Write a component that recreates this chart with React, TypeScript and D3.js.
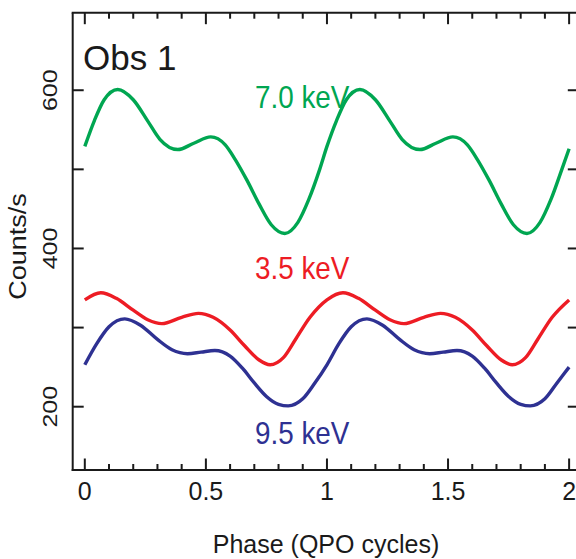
import React from "react";
import * as d3 from "d3";

const phases7 = [0, 0.04, 0.08, 0.136, 0.2, 0.26, 0.31, 0.384, 0.45, 0.52, 0.58, 0.62, 0.67, 0.72, 0.77, 0.826, 0.88, 0.925, 0.97,
  1.0, 1.04, 1.08, 1.136, 1.2, 1.26, 1.31, 1.384, 1.45, 1.52, 1.58, 1.62, 1.67, 1.72, 1.77, 1.826, 1.88, 1.925, 1.97, 2.0];
const counts7 = [529, 562, 588, 601, 588, 561, 538, 525, 533, 541, 531, 513, 486, 456, 430, 419, 433, 462, 500,
  529, 562, 588, 601, 588, 561, 538, 525, 533, 541, 531, 513, 486, 456, 430, 419, 433, 462, 500, 526];

const phases35 = [0, 0.066, 0.13, 0.2, 0.26, 0.318, 0.4, 0.469, 0.53, 0.6, 0.66, 0.72, 0.765, 0.82, 0.87, 0.93,
  1.0, 1.066, 1.13, 1.2, 1.26, 1.318, 1.4, 1.469, 1.53, 1.6, 1.66, 1.72, 1.765, 1.82, 1.87, 1.93, 2.0];
const counts35 = [335, 344, 337, 322, 310, 305, 313, 318, 313, 297, 277, 259, 253, 262, 285, 313,
  335, 344, 337, 322, 310, 305, 313, 318, 313, 297, 277, 259, 253, 262, 285, 313, 335];

const phases95 = [0, 0.05, 0.1, 0.165, 0.23, 0.3, 0.36, 0.424, 0.48, 0.537, 0.6, 0.65, 0.7, 0.75, 0.8, 0.84, 0.9, 0.95,
  1.0, 1.05, 1.1, 1.165, 1.23, 1.3, 1.36, 1.424, 1.48, 1.537, 1.6, 1.65, 1.7, 1.75, 1.8, 1.84, 1.9, 1.95, 2.0];
const counts95 = [253, 280, 301, 311, 303, 285, 272, 267, 269, 271, 264, 249, 230, 213, 203, 201, 210, 230,
  253, 280, 301, 311, 303, 285, 272, 267, 269, 271, 264, 249, 230, 213, 203, 201, 210, 230, 250];

const seriesLabels = ["7.0 keV", "3.5 keV", "9.5 keV"];
const seriesColors = ["#00a651", "#ed1c24", "#2e3192"];
const yLabelTicks = [200, 400, 600];
const xLabelTicks = [0, 0.5, 1, 1.5, 2];
const xTickText = ["0", "0.5", "1", "1.5", "2"];

const W = 576;
const H = 559;
const FONT = "'Liberation Sans', Arial, Helvetica, sans-serif";

export default function App() {
  const x = d3.scaleLinear().domain([-0.05, 2.04]).range([72.7, 578.8]);
  const y = d3.scaleLinear().domain([120, 698]).range([470, 12.7]);
  const left = x.range()[0];
  const right = x.range()[1];
  const top = y.range()[1];
  const bottom = y.range()[0];

  const series = [
    { p: phases7, v: counts7 },
    { p: phases35, v: counts35 },
    { p: phases95, v: counts95 },
  ];
  const line = d3
    .line<[number, number]>()
    .x((d) => x(d[0]))
    .y((d) => y(d[1]))
    .curve(d3.curveMonotoneX);

  const xTicks = d3.range(0, 21).map((i) => i / 10);
  const yTicks = y.ticks(6);

  const labelPos = [
    { x: 255, y: 108 },
    { x: 255, y: 279 },
    { x: 255, y: 444 },
  ];

  return (
    <svg
      width={W}
      height={H}
      style={{ position: "absolute", left: 0, top: 0, background: "#fff" }}
      fontFamily={FONT}
    >
      <rect x={0} y={0} width={W} height={H} fill="#fff" />
      {series.map((s, i) => (
        <path
          key={i}
          d={line(s.p.map((p, j) => [p, s.v[j]] as [number, number])) || ""}
          fill="none"
          stroke={seriesColors[i]}
          strokeWidth={3.4}
        />
      ))}
      {/* frame */}
      <g stroke="#1a1a1a" strokeWidth={2} fill="none">
        <line x1={left} x2={left} y1={top} y2={bottom + 1} />
        <line x1={right} x2={right} y1={top} y2={bottom} />
        <line x1={left - 1} x2={right} y1={top} y2={top} />
        <line x1={left - 1} x2={right} y1={bottom} y2={bottom} />
        {xTicks.map((t) => {
          const major = Math.abs(t * 2 - Math.round(t * 2)) < 1e-6;
          const len = major ? 11.5 : 6;
          return (
            <g key={t}>
              <line x1={x(t)} x2={x(t)} y1={bottom} y2={bottom - len} />
              <line x1={x(t)} x2={x(t)} y1={top} y2={top + len} />
            </g>
          );
        })}
        {yTicks.map((t) => (
          <g key={t}>
            <line x1={left} x2={left + 11} y1={y(t)} y2={y(t)} />
            <line x1={right} x2={right - 11} y1={y(t)} y2={y(t)} />
          </g>
        ))}
      </g>
      {/* x tick labels */}
      {xLabelTicks.map((t, i) => (
        <text key={t} x={x(t)} y={500} fontSize={25} textAnchor="middle" fill="#1a1a1a">
          {xTickText[i]}
        </text>
      ))}
      {/* y tick labels */}
      {yLabelTicks.map((t) => (
        <text
          key={t}
          transform={`translate(57.3,${y(t)}) rotate(-90) scale(1,0.82)`}
          fontSize={25}
          textAnchor="middle"
          fill="#1a1a1a"
        >
          {t}
        </text>
      ))}
      {/* axis titles */}
      <text x={326} y={553} fontSize={25} textAnchor="middle" fill="#1a1a1a">
        Phase (QPO cycles)
      </text>
      <text
        transform={`translate(25.5,246.5) rotate(-90) scale(1,0.86)`}
        fontSize={27}
        textAnchor="middle"
        fill="#1a1a1a"
      >
        Counts/s
      </text>
      <text x={83} y={70} fontSize={35} fill="#1a1a1a">
        Obs 1
      </text>
      {seriesLabels.map((s, i) => (
        <text
          key={s}
          transform={`translate(${labelPos[i].x},${labelPos[i].y}) scale(0.87,1)`}
          fontSize={32}
          fill={seriesColors[i]}
        >
          {s}
        </text>
      ))}
    </svg>
  );
}
